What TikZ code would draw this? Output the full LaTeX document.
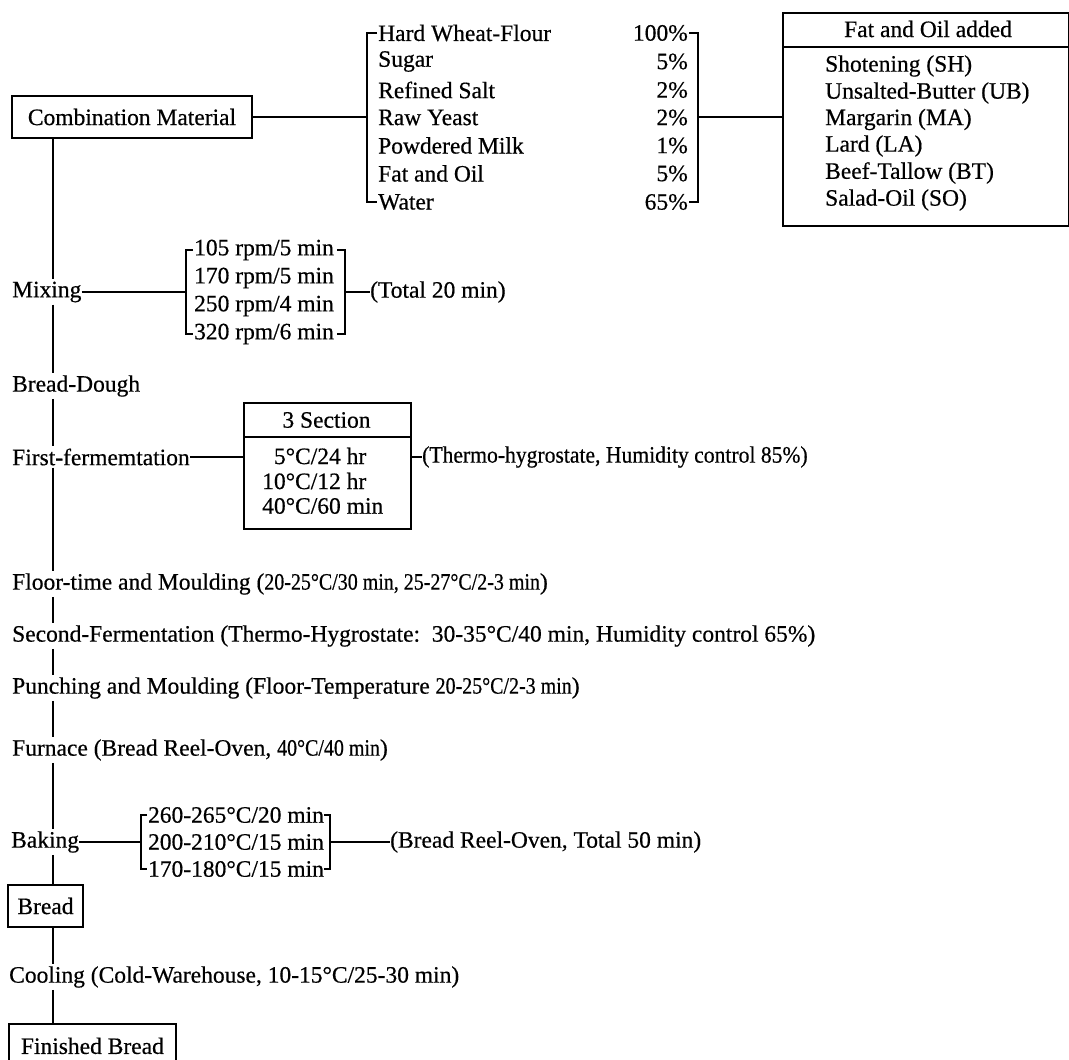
\documentclass[tikz,border=0pt]{standalone}
\usepackage{fontspec}
\setmainfont{Liberation Serif}[FakeBold=0.5]
\newfontfamily\nf{Liberation Serif}[FakeStretch=0.85,FakeBold=0.5]
\newfontfamily\cf{Liberation Serif}[FakeStretch=0.92,FakeBold=0.5]
\newcommand\fs{\fontsize{23.5}{28}\selectfont}
\tikzset{
  lbl/.style={anchor=west, inner xsep=0pt, inner ysep=2pt},
  boxed/.style={draw, line width=1.8pt, inner sep=0pt},
  ln/.style={line width=1.6pt},
}
\begin{document}
\begin{tikzpicture}[x=1pt, y=-1pt, every node/.style={font=\fs, inner sep=0pt}]
\useasboundingbox (0,0) rectangle (1069,1060);
\clip (0,0) rectangle (1069,1060);

% ---- combination material
\node[boxed, minimum width=240pt, minimum height=42pt] (comb) at (132,117) {Combination Material};

% ---- ingredient list
\foreach \t/\p/\y [count=\i] in {Hard Wheat-Flour/100\%/33, Sugar/5\%/61.5, Refined Salt/2\%/90, Raw Yeast/2\%/117.5, Powdered Milk/1\%/145.5, Fat and Oil/5\%/173.5, Water/65\%/202}{
  \node[anchor=west] (ing\i) at (378,\y) {\t};
  \node[anchor=east] (pct\i) at (688,\y) {\p};
}
\coordinate (ingL) at (367,117);
\coordinate (ingR) at (698,117);
\draw[ln] (377,33) -- (367,33) -- (367,202) -- (377,202);
\draw[ln] (689,33) -- (698,33) -- (698,202) -- (689,202);
\draw[ln] (comb.east) -- (ingL);

% ---- fat and oil box
\node[boxed, anchor=north west, minimum width=286pt, minimum height=213pt] (fat) at (782,12) {};
\draw[ln] ([yshift=-35pt]fat.north west) -- ([yshift=-35pt]fat.north east);
\node (fathead) at (928,29) {Fat and Oil added};
\foreach \t/\y [count=\i] in {Shotening (SH)/66, Unsalted-Butter (UB)/93, Margarin (MA)/119.5, Lard (LA)/146, Beef-Tallow (BT)/173, Salad-Oil (SO)/200}{
  \node[anchor=west] (fo\i) at (825,\y) {\t};
}
\draw[ln] (ingR) -- (ingR -| fat.west);

% ---- main column labels
\node[lbl] (mix) at (12,292) {Mixing};
\node[lbl] (dough) at (12,386) {Bread-Dough};
\node[lbl] (ferm) at (12,457) {First-fermemtation};
\node[lbl] (floor) at (12,584) {Floor-time and Moulding ({\nf 20-25°C/30 min, 25-27°C/2-3 min})};
\node[lbl] (second) at (12,636) {Second-Fermentation (Thermo-Hygrostate:\ \ 30-35°C/40 min, Humidity control 65\%)};
\node[lbl] (punch) at (12,688) {Punching and Moulding (Floor-Temperature {\nf 20-25°C/2-3 min})};
\node[lbl] (furn) at (12,750) {Furnace (Bread Reel-Oven, {\nf 40°C/40 min})};
\node[lbl] (bake) at (11,842) {Baking};
\node[boxed, minimum width=75pt, minimum height=42pt] (bread) at (45.5,906) {Bread};
\node[lbl] (cool) at (9,977) {Cooling (Cold-Warehouse, 10-15°C/25-30 min)};
\node[boxed, anchor=north west, minimum width=167pt, minimum height=44pt] (fin) at (8,1023) {Finished Bread};

% ---- spine
\coordinate (sp) at (53,0);
\draw[ln] (comb.south -| sp) -- (mix.north -| sp);
\draw[ln] (mix.south -| sp) -- (dough.north -| sp);
\draw[ln] (dough.south -| sp) -- (ferm.north -| sp);
\draw[ln] (ferm.south -| sp) -- (floor.north -| sp);
\draw[ln] (floor.south -| sp) -- (second.north -| sp);
\draw[ln] (second.south -| sp) -- (punch.north -| sp);
\draw[ln] (punch.south -| sp) -- (furn.north -| sp);
\draw[ln] (furn.south -| sp) -- (bake.north -| sp);
\draw[ln] (bake.south -| sp) -- (bread.north -| sp);
\draw[ln] (bread.south -| sp) -- (cool.north -| sp);
\draw[ln] (cool.south -| sp) -- (fin.north -| sp);

% ---- mixing bracket
\node (m1) at (264,250) {105 rpm/5 min};
\node (m2) at (264,278) {170 rpm/5 min};
\node (m3) at (264,306) {250 rpm/4 min};
\node (m4) at (264,334) {320 rpm/6 min};
\coordinate (mixL) at (186,292);
\coordinate (mixR) at (345,292);
\draw[ln] (193,250) -- (186,250) -- (186,334) -- (193,334);
\draw[ln] (337,250) -- (345,250) -- (345,334) -- (337,334);
\draw[ln] (mix.east) -- (mixL);
\node[lbl] (tot) at (370,292) {(Total 20 min)};
\draw[ln] (mixR) -- (tot.west);

% ---- 3 section box
\node[boxed, anchor=north west, minimum width=167pt, minimum height=126pt] (sec) at (243,402) {};
\draw[ln] ([yshift=-35pt]sec.north west) -- ([yshift=-35pt]sec.north east);
\node (sechead) at (326.5,420) {3 Section};
\node[anchor=west] (s1) at (262,456) {\phantom{1}5°C/24 hr};
\node[anchor=west] (s2) at (262,481) {10°C/12 hr};
\node[anchor=west] (s3) at (262,506) {40°C/60 min};
\draw[ln] (ferm.east) -- (ferm.east -| sec.west);
\node[lbl, font=\fs\cf] (thermo) at (422,457) {(Thermo-hygrostate, Humidity control 85\%)};
\draw[ln] (thermo.west -| sec.east) -- (thermo.west);

% ---- baking bracket
\node (b1) at (236,815) {260-265°C/20 min};
\node (b2) at (236,842) {200-210°C/15 min};
\node (b3) at (236,869) {170-180°C/15 min};
\coordinate (bakL) at (141,842);
\coordinate (bakR) at (330,842);
\draw[ln] (147,815) -- (141,815) -- (141,869) -- (147,869);
\draw[ln] (324,815) -- (330,815) -- (330,869) -- (324,869);
\draw[ln] (bake.east) -- (bakL);
\node[lbl] (oven) at (390,842) {(Bread Reel-Oven, Total 50 min)};
\draw[ln] (bakR) -- (oven.west);
\end{tikzpicture}
\end{document}
